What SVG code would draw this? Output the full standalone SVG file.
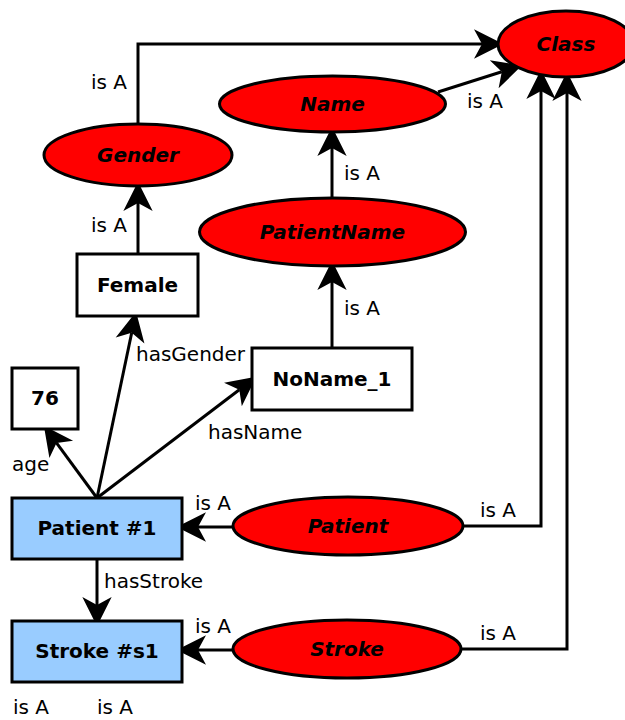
<svg xmlns="http://www.w3.org/2000/svg" width="625" height="720" viewBox="0 0 625 720">
  <style>
    .cls ellipse { fill: #ff0000; stroke: #000; stroke-width: 3; }
    .ind rect { fill: #fff; stroke: #000; stroke-width: 3; }
    .inst rect { fill: #99ccff; stroke: #000; stroke-width: 3; }
    .cls text { font-family: "DejaVu Sans", sans-serif; font-size: 20px; font-weight: bold; font-style: italic; text-anchor: middle; fill: #000; }
    .ind text, .inst text { font-family: "DejaVu Sans", sans-serif; font-size: 20px; font-weight: bold; text-anchor: middle; fill: #000; }
    .edge { fill: none; stroke: #000; stroke-width: 3; marker-end: url(#head); }
    .lbl { font-family: "DejaVu Sans", sans-serif; font-size: 20px; fill: #000; }
  </style>
  <defs>
    <marker id="head" markerUnits="userSpaceOnUse" orient="auto" refX="0" refY="0" markerWidth="40" markerHeight="40" viewBox="-10 -15 30 30" overflow="visible">
      <path d="M16,0 L-6,-11 L0,0 L-6,11 Z" fill="#000"/>
    </marker>
  </defs>

  <!-- connectors -->
  <g id="edges">
    <path class="edge" d="M138,124 V44 H482"/>
    <path class="edge" d="M438,92 L501.8,71.8"/>
    <path class="edge" d="M332,198 V148"/>
    <path class="edge" d="M332,348 V282"/>
    <path class="edge" d="M138,253 V203"/>
    <path class="edge" d="M463,526 H541 V91"/>
    <path class="edge" d="M461,649 H567 V93"/>
    <path class="edge" d="M97,498 L131.7,332.7"/>
    <path class="edge" d="M97,498 L56.5,442.9"/>
    <path class="edge" d="M97,498 L239.3,389.7"/>
    <path class="edge" d="M233,527 H198"/>
    <path class="edge" d="M233,650 H198"/>
    <path class="edge" d="M97,559 V605"/>
  </g>

  <!-- edge labels -->
  <g id="edge-labels">
    <text class="lbl" x="91" y="89">is A</text>
    <text class="lbl" x="91" y="232">is A</text>
    <text class="lbl" x="467" y="108">is A</text>
    <text class="lbl" x="344" y="180">is A</text>
    <text class="lbl" x="344" y="315">is A</text>
    <text class="lbl" x="136" y="361">hasGender</text>
    <text class="lbl" x="208" y="439">hasName</text>
    <text class="lbl" x="12" y="471">age</text>
    <text class="lbl" x="195" y="510">is A</text>
    <text class="lbl" x="104" y="588">hasStroke</text>
    <text class="lbl" x="195" y="633">is A</text>
    <text class="lbl" x="480" y="517">is A</text>
    <text class="lbl" x="480" y="640">is A</text>
    <text class="lbl" x="13" y="714">is A</text>
    <text class="lbl" x="97" y="714">is A</text>
  </g>

  <!-- class nodes -->
  <g id="Class" class="cls">
    <ellipse cx="566" cy="44" rx="68" ry="33"/>
    <text x="566" y="51">Class</text>
  </g>
  <g id="Name" class="cls">
    <ellipse cx="332.5" cy="104" rx="113" ry="28"/>
    <text x="332.5" y="111">Name</text>
  </g>
  <g id="Gender" class="cls">
    <ellipse cx="138" cy="155" rx="94" ry="31"/>
    <text x="138" y="162">Gender</text>
  </g>
  <g id="PatientName" class="cls">
    <ellipse cx="332.5" cy="232" rx="133" ry="34"/>
    <text x="332.5" y="239">PatientName</text>
  </g>
  <g id="Patient" class="cls">
    <ellipse cx="348" cy="526" rx="115" ry="29"/>
    <text x="348" y="533">Patient</text>
  </g>
  <g id="Stroke" class="cls">
    <ellipse cx="347" cy="649" rx="114" ry="29"/>
    <text x="347" y="656">Stroke</text>
  </g>

  <!-- individual values -->
  <g id="Female" class="ind">
    <rect x="77" y="254" width="121" height="62"/>
    <text x="137.5" y="292">Female</text>
  </g>
  <g id="NoName_1" class="ind">
    <rect x="252" y="348" width="160" height="62"/>
    <text x="332" y="386">NoName_1</text>
  </g>
  <g id="v76" class="ind">
    <rect x="12" y="368" width="66" height="61"/>
    <text x="45" y="405">76</text>
  </g>

  <!-- instances -->
  <g id="Patient1" class="inst">
    <rect x="12" y="498" width="170" height="61"/>
    <text x="97" y="535">Patient #1</text>
  </g>
  <g id="Stroke_s1" class="inst">
    <rect x="12" y="621" width="170" height="61"/>
    <text x="97" y="658">Stroke #s1</text>
  </g>
</svg>
